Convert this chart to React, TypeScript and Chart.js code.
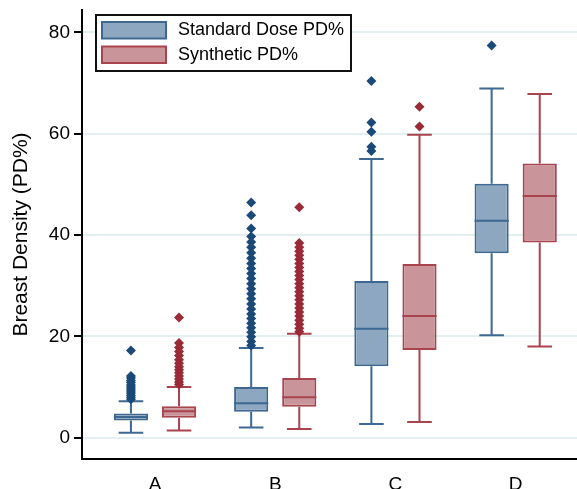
import { useEffect, useRef } from 'react';
import { Chart, registerables } from 'chart.js';

Chart.register(...registerables);

const categories = ['A', 'B', 'C', 'D'];
const seriesLabels = ['Standard Dose PD%', 'Synthetic PD%'];
const yTickValues = [0, 20, 40, 60, 80];

// Standard Dose PD%
const stdLow = [1.0, 2.0, 2.7, 20.2];
const stdQ1 = [3.4, 5.1, 14.1, 36.4];
const stdMedian = [4.1, 6.8, 21.5, 42.8];
const stdQ3 = [4.8, 10.0, 30.9, 50.1];
const stdHigh = [7.2, 17.7, 55.0, 68.9];
const stdOutliersA = [17.2, 12.2, 11.8, 11.3, 10.9, 10.4, 10.0, 9.6, 9.2, 8.8, 8.4, 8.0, 7.6];
const stdOutliersB = [46.4, 43.9, 41.3, 39.7, 38.6, 37.6, 36.5, 35.4, 34.4, 33.4, 32.4, 31.4, 30.4, 29.4, 28.4, 27.4, 26.4, 25.4, 24.4, 23.5, 22.6, 21.7, 20.8, 19.9, 19.0, 18.2];
const stdOutliersC = [70.4, 62.2, 60.4, 57.4, 56.6];
const stdOutliersD = [77.4];

// Synthetic PD%
const synLow = [1.4, 1.7, 3.1, 18.0];
const synQ1 = [3.95, 6.1, 17.3, 38.5];
const synMedian = [5.2, 8.0, 24.0, 47.7];
const synQ3 = [6.2, 11.8, 34.3, 54.1];
const synHigh = [10.0, 20.5, 59.8, 67.8];
const synOutliersA = [23.7, 18.7, 17.8, 17.0, 16.2, 15.4, 14.7, 14.0, 13.4, 12.8, 12.2, 11.6, 11.0, 10.5];
const synOutliersB = [45.5, 38.4, 37.6, 36.8, 36.0, 35.2, 34.4, 33.6, 32.8, 32.0, 31.2, 30.4, 29.6, 28.8, 28.0, 27.2, 26.4, 25.6, 24.8, 24.0, 23.2, 22.4, 21.6, 20.9];
const synOutliersC = [65.3, 61.4];
const synOutliersD: number[] = [];

const BLUE_FILL = '#8da7c0';
const BLUE_BORDER = '#3c6891';
const BLUE_DOT = '#1b4a78';
const RED_FILL = '#c9949a';
const RED_BORDER = '#a9444f';
const RED_DOT = '#9a2a36';

const FONT = '"Liberation Sans", Arial, sans-serif';

const series = [
  {
    label: seriesLabels[0],
    low: stdLow, q1: stdQ1, median: stdMedian, q3: stdQ3, high: stdHigh,
    outliers: [stdOutliersA, stdOutliersB, stdOutliersC, stdOutliersD],
    fill: BLUE_FILL, border: BLUE_BORDER, dot: BLUE_DOT,
  },
  {
    label: seriesLabels[1],
    low: synLow, q1: synQ1, median: synMedian, q3: synQ3, high: synHigh,
    outliers: [synOutliersA, synOutliersB, synOutliersC, synOutliersD],
    fill: RED_FILL, border: RED_BORDER, dot: RED_DOT,
  },
];

const boxPlugin = {
  id: 'boxExtras',
  afterDatasetsDraw(chart: any) {
    const ctx = chart.ctx as CanvasRenderingContext2D;
    const ys = chart.scales.y;
    series.forEach((s, di) => {
      const meta = chart.getDatasetMeta(di);
      meta.data.forEach((el: any, i: number) => {
        const { x, width } = el.getProps(['x', 'width'], true);
        const cap = width * 0.72;
        const yLow = ys.getPixelForValue(s.low[i]);
        const yQ1 = ys.getPixelForValue(s.q1[i]);
        const yMed = ys.getPixelForValue(s.median[i]);
        const yQ3 = ys.getPixelForValue(s.q3[i]);
        const yHigh = ys.getPixelForValue(s.high[i]);
        ctx.save();
        ctx.strokeStyle = s.border;
        ctx.lineWidth = 2;
        ctx.beginPath();
        ctx.moveTo(x, yQ3);
        ctx.lineTo(x, yHigh);
        ctx.moveTo(x - cap / 2, yHigh);
        ctx.lineTo(x + cap / 2, yHigh);
        ctx.moveTo(x, yQ1);
        ctx.lineTo(x, yLow);
        ctx.moveTo(x - cap / 2, yLow);
        ctx.lineTo(x + cap / 2, yLow);
        ctx.moveTo(x - width / 2, yMed);
        ctx.lineTo(x + width / 2, yMed);
        ctx.stroke();
        ctx.fillStyle = s.dot;
        const r = 5;
        s.outliers[i].forEach((v) => {
          const py = ys.getPixelForValue(v);
          ctx.beginPath();
          ctx.moveTo(x, py - r);
          ctx.lineTo(x + r, py);
          ctx.lineTo(x, py + r);
          ctx.lineTo(x - r, py);
          ctx.closePath();
          ctx.fill();
        });
        ctx.restore();
      });
    });
  },
  afterDraw(chart: any) {
    const ctx = chart.ctx as CanvasRenderingContext2D;
    const area = chart.chartArea;
    const bx = area.left + 14;
    const by = area.top + 5;
    const bw = 255;
    const bh = 56;
    ctx.save();
    ctx.fillStyle = '#ffffff';
    ctx.fillRect(bx, by, bw, bh);
    ctx.strokeStyle = '#111111';
    ctx.lineWidth = 2;
    ctx.strokeRect(bx, by, bw, bh);
    series.forEach((s, i) => {
      const sy = by + 7 + i * 24.5;
      ctx.fillStyle = s.fill;
      ctx.fillRect(bx + 6, sy, 64, 16.5);
      ctx.strokeStyle = s.border;
      ctx.lineWidth = 2;
      ctx.strokeRect(bx + 6, sy, 64, 16.5);
      ctx.fillStyle = '#000000';
      ctx.font = `18px ${FONT}`;
      ctx.textBaseline = 'middle';
      ctx.textAlign = 'left';
      ctx.fillText(s.label, bx + 82, sy + 8.5);
    });
    ctx.restore();
  },
};

export default function App() {
  const canvasRef = useRef<HTMLCanvasElement | null>(null);

  useEffect(() => {
    const canvas = canvasRef.current;
    if (!canvas) return;
    const chart = new Chart(canvas, {
      type: 'bar',
      data: {
        datasets: series.map((s) => ({
          label: s.label,
          data: categories.map((_, i) => ({ x: i + 1, y: [s.q1[i], s.q3[i]] })),
          backgroundColor: s.fill,
          borderColor: s.border,
          borderWidth: 2,
          borderSkipped: false,
          categoryPercentage: 0.8,
          barPercentage: 0.71,
        })) as any,
      },
      options: {
        responsive: false,
        animation: false,
        events: [],
        layout: { padding: { top: 10, right: 0, bottom: 0, left: 0 } },
        plugins: {
          legend: { display: false },
          tooltip: { enabled: false },
        },
        scales: {
          x: {
            type: 'linear',
            offset: false,
            min: 0.393,
            max: 4.51,
            afterBuildTicks: (scale: any) => {
              scale.ticks = categories.map((_, i) => ({ value: i + 1 }));
            },
            afterFit: (scale: any) => {
              scale.height = 30;
              scale.paddingLeft = 0;
              scale.paddingRight = 0;
            },
            ticks: {
              callback: (v: any) => categories[Number(v) - 1] ?? '',
              font: { family: FONT, size: 19 },
              color: '#000000',
              padding: 6,
              maxRotation: 0,
              autoSkip: false,
            },
            grid: { display: false, offset: false },
            border: { color: '#000000', width: 2 },
          },
          y: {
            type: 'linear',
            min: -4.2,
            max: 84.4,
            afterBuildTicks: (scale: any) => {
              scale.ticks = yTickValues.map((v) => ({ value: v }));
            },
            afterFit: (scale: any) => {
              scale.width = 82;
              scale.paddingTop = 0;
              scale.paddingBottom = 0;
            },
            ticks: {
              font: { family: FONT, size: 19 },
              color: '#000000',
              padding: 4,
            },
            grid: {
              color: '#e4eff2',
              lineWidth: 2,
              tickColor: '#000000',
              tickLength: 8,
            },
            border: { color: '#000000', width: 2 },
            title: {
              display: true,
              text: 'Breast Density (PD%)',
              font: { family: FONT, size: 21 },
              color: '#000000',
              padding: { top: 9, bottom: 0 },
            },
          },
        },
      } as any,
      plugins: [boxPlugin],
    });
    return () => chart.destroy();
  }, []);

  return (
    <div style={{ position: 'fixed', left: 0, top: 0, width: 577, height: 489, background: '#ffffff' }}>
      <canvas ref={canvasRef} width={577} height={489} style={{ display: 'block' }} />
    </div>
  );
}
